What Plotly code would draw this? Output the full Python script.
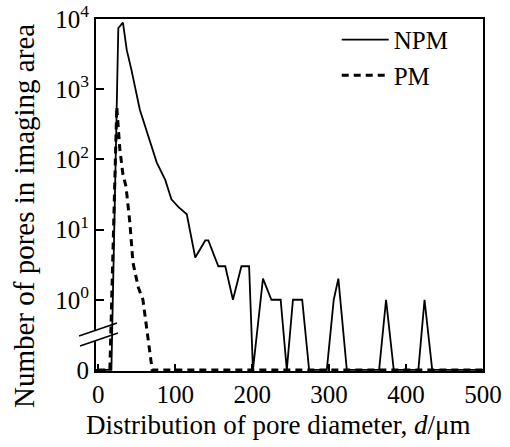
import numpy as np
import plotly.graph_objects as go

# NPM: pore diameter (um) and number of pores
npm_d = [0, 17, 26, 32, 37, 43, 54, 69, 76, 87, 95, 104, 115, 126, 139, 143,
         156, 165, 175, 186, 196, 201, 214, 225, 237, 245, 253, 265, 274, 297,
         306, 312, 323, 365, 374, 384, 416, 424, 434, 500]
npm_n = [0, 0, 7400, 8900, 3600, 1900, 510, 150, 90, 51, 27, 21, 16.5, 4, 7, 7,
         3, 3, 1, 3, 3, 0, 2, 1, 1, 0, 1, 1, 0, 0,
         1, 2, 0, 0, 1, 0, 0, 1, 0, 0]

# PM
pm_d = [0, 15, 24, 28, 32, 36, 41, 45, 52, 58, 70, 500]
pm_n = [0, 0, 560, 140, 61, 41, 12.6, 3.4, 1.5, 1, 0, 0]

y_tickvals = [0.1, 1, 10, 100, 1000, 10000]
y_ticktext = ["0", "10<sup>0</sup>", "10<sup>1</sup>", "10<sup>2</sup>",
              "10<sup>3</sup>", "10<sup>4</sup>"]
x_tickvals = [0, 100, 200, 300, 400, 500]

ZERO_POS = 0.1  # zero counts are drawn at the broken "0" level


def to_plot(v):
    v = np.asarray(v, dtype=float)
    return np.where(v > 0, v, ZERO_POS)


FONT = "Liberation Serif"

fig = go.Figure()
fig.add_trace(go.Scatter(x=npm_d, y=to_plot(npm_n), mode="lines", name="NPM",
                         line=dict(color="black", width=1.8)))
fig.add_trace(go.Scatter(x=pm_d, y=to_plot(pm_n), mode="lines", name="PM",
                         line=dict(color="black", width=3, dash="7px,5px")))

# axis break marks on the y axis
L, R, T, B = 96, 483, 19, 371
W, H = R - L, B - T


def px(xp):
    return (xp - L) / W


def py(yp):
    return (B - yp) / H


fig.add_shape(type="path", xref="paper", yref="paper",
              path=f"M{px(88)},{py(333)} L{px(104)},{py(328)} L{px(105)},{py(338)} L{px(89)},{py(343)} Z",
              fillcolor="white", line=dict(width=0), layer="above")
fig.add_shape(type="line", xref="paper", yref="paper",
              x0=px(79), y0=py(336), x1=px(117), y1=py(323),
              line=dict(color="black", width=1.6), layer="above")
fig.add_shape(type="line", xref="paper", yref="paper",
              x0=px(80), y0=py(346), x1=px(118), y1=py(333),
              line=dict(color="black", width=1.6), layer="above")

# axis titles
fig.add_annotation(text="Distribution of pore diameter, <i>d</i>/μm",
                   xref="paper", yref="paper", x=px(278), y=py(425),
                   xanchor="center", yanchor="middle", showarrow=False,
                   font=dict(size=27, family=FONT, color="black"))
fig.add_annotation(text="Number of pores in imaging area",
                   xref="paper", yref="paper", x=px(24), y=py(216),
                   xanchor="center", yanchor="middle", showarrow=False,
                   textangle=-90,
                   font=dict(size=29, family=FONT, color="black"))

fig.update_layout(
    width=510, height=447,
    margin=dict(l=L, r=510 - R, t=T, b=447 - B, autoexpand=False),
    paper_bgcolor="white", plot_bgcolor="white",
    font=dict(family=FONT, color="black", size=25),
    showlegend=True,
    legend=dict(x=0.622, y=1.006, xanchor="left", yanchor="top",
                bgcolor="rgba(0,0,0,0)", font=dict(size=25, family=FONT),
                itemwidth=47, tracegroupgap=0),
    xaxis=dict(range=[-3, 500], tickvals=x_tickvals, ticks="inside", ticklen=7,
               tickwidth=1.5, tickcolor="black", automargin=False,
               showline=True, linecolor="black", linewidth=1.8, mirror=True,
               showgrid=False, zeroline=False,
               tickfont=dict(size=25, family=FONT)),
    yaxis=dict(type="log", range=[-1.015, 4], tickvals=y_tickvals, ticktext=y_ticktext,
               ticks="inside", ticklen=8, tickwidth=1.5, tickcolor="black",
               automargin=False,
               showline=True, linecolor="black", linewidth=1.8, mirror=True,
               showgrid=False, zeroline=False,
               tickfont=dict(size=25, family=FONT)),
)

fig.write_html("out.html",
               config={"displayModeBar": False},
               post_script="document.body.style.margin='0';document.body.style.overflow='hidden';")
